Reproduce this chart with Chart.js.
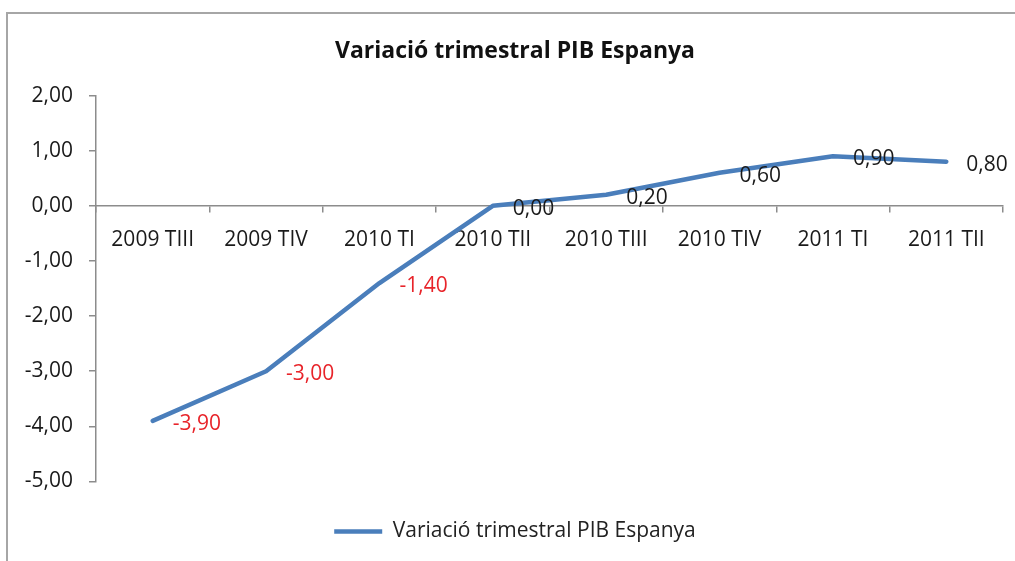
<!DOCTYPE html>
<html>
<head>
<meta charset="utf-8">
<script src="https://cdn.jsdelivr.net/npm/chart.js@4/dist/chart.umd.min.js"></script>
<style>
  html, body { margin: 0; padding: 0; background: #fff; }
  .wrap { position: relative; width: 1015px; height: 561px; overflow: hidden; }
  .frame { position: absolute; left: 6px; top: 12px; width: 1020px; height: 560px;
           border-top: 2px solid #a6a6a6; border-left: 2px solid #a6a6a6; }
  canvas { position: absolute; left: 0; top: 0; }
</style>
</head>
<body>
<div class="wrap">
  <div class="frame"></div>
  <canvas id="chart" width="1015" height="561"></canvas>
</div>
<script>
const quarters = ['2009 TIII', '2009 TIV', '2010 TI', '2010 TII', '2010 TIII', '2010 TIV', '2011 TI', '2011 TII'];
const gdpChange = [-3.9, -3.0, -1.4, 0.0, 0.2, 0.6, 0.9, 0.8];
const seriesName = 'Variació trimestral PIB Espanya';

const fmt = v => v.toFixed(2).replace('.', ',');
const font = "'Open Sans', 'Noto Sans', sans-serif";

// value labels to the lower right of each point
const valueLabels = {
  id: 'valueLabels',
  afterDatasetsDraw(chart) {
    const ctx = chart.ctx;
    const meta = chart.getDatasetMeta(0);
    ctx.save();
    ctx.font = '21px ' + font;
    ctx.textAlign = 'left';
    ctx.textBaseline = 'middle';
    meta.data.forEach((pt, i) => {
      const v = gdpChange[i];
      ctx.fillStyle = v < 0 ? '#e8242a' : '#1a1a1a';
      ctx.fillText(fmt(v), pt.x + 20, pt.y + 3);
    });
    ctx.restore();
  }
};

// blank axis used only to reserve space
const spacer = (position, size) => ({
  type: 'category',
  position,
  afterFit(scale) {
    if (position === 'right') scale.width = size; else scale.height = size;
  },
  grid: { display: false },
  border: { display: false },
  ticks: { display: false }
});

new Chart(document.getElementById('chart'), {
  type: 'line',
  data: {
    labels: quarters,
    datasets: [{
      label: seriesName,
      data: gdpChange,
      xAxisID: 'x',
      yAxisID: 'y',
      borderColor: '#4a7ebb',
      backgroundColor: '#4a7ebb',
      borderWidth: 4.5,
      borderCapStyle: 'round',
      borderJoinStyle: 'round',
      pointRadius: 0,
      tension: 0,
      fill: false
    }]
  },
  options: {
    responsive: false,
    animation: false,
    layout: { padding: { left: 15, right: 0, top: 0, bottom: 9 } },
    plugins: {
      title: {
        display: true,
        text: seriesName,
        color: '#111',
        font: { family: font, size: 23, weight: 'bold' },
        padding: { top: 38, bottom: 30 }
      },
      legend: {
        display: true,
        position: 'bottom',
        labels: {
          usePointStyle: true,
          pointStyle: 'line',
          pointStyleWidth: 48,
          color: '#222',
          font: { family: font, size: 21 },
          padding: 8.5
        }
      },
      tooltip: { enabled: false }
    },
    scales: {
      x: {
        position: { y: 0 },
        offset: true,
        grid: { drawOnChartArea: false, offset: true, tickLength: 6, color: '#8c8c8c', lineWidth: 1.5 },
        border: { color: '#8c8c8c', width: 1.5 },
        ticks: { color: '#1a1a1a', font: { family: font, size: 21 }, padding: 16, maxRotation: 0, autoSkip: false }
      },
      y: {
        min: -5,
        max: 2,
        afterFit(scale) { scale.width = 81; },
        grid: { drawOnChartArea: false, tickLength: 7, color: '#8c8c8c', lineWidth: 1.5 },
        border: { color: '#8c8c8c', width: 1.5 },
        ticks: {
          stepSize: 1,
          color: '#1a1a1a',
          font: { family: font, size: 21 },
          padding: 16,
          callback: v => fmt(v)
        }
      },
      gapBottom: spacer('bottom', 31),
      gapRight: spacer('right', 12)
    }
  },
  plugins: [valueLabels]
});
</script>
</body>
</html>
